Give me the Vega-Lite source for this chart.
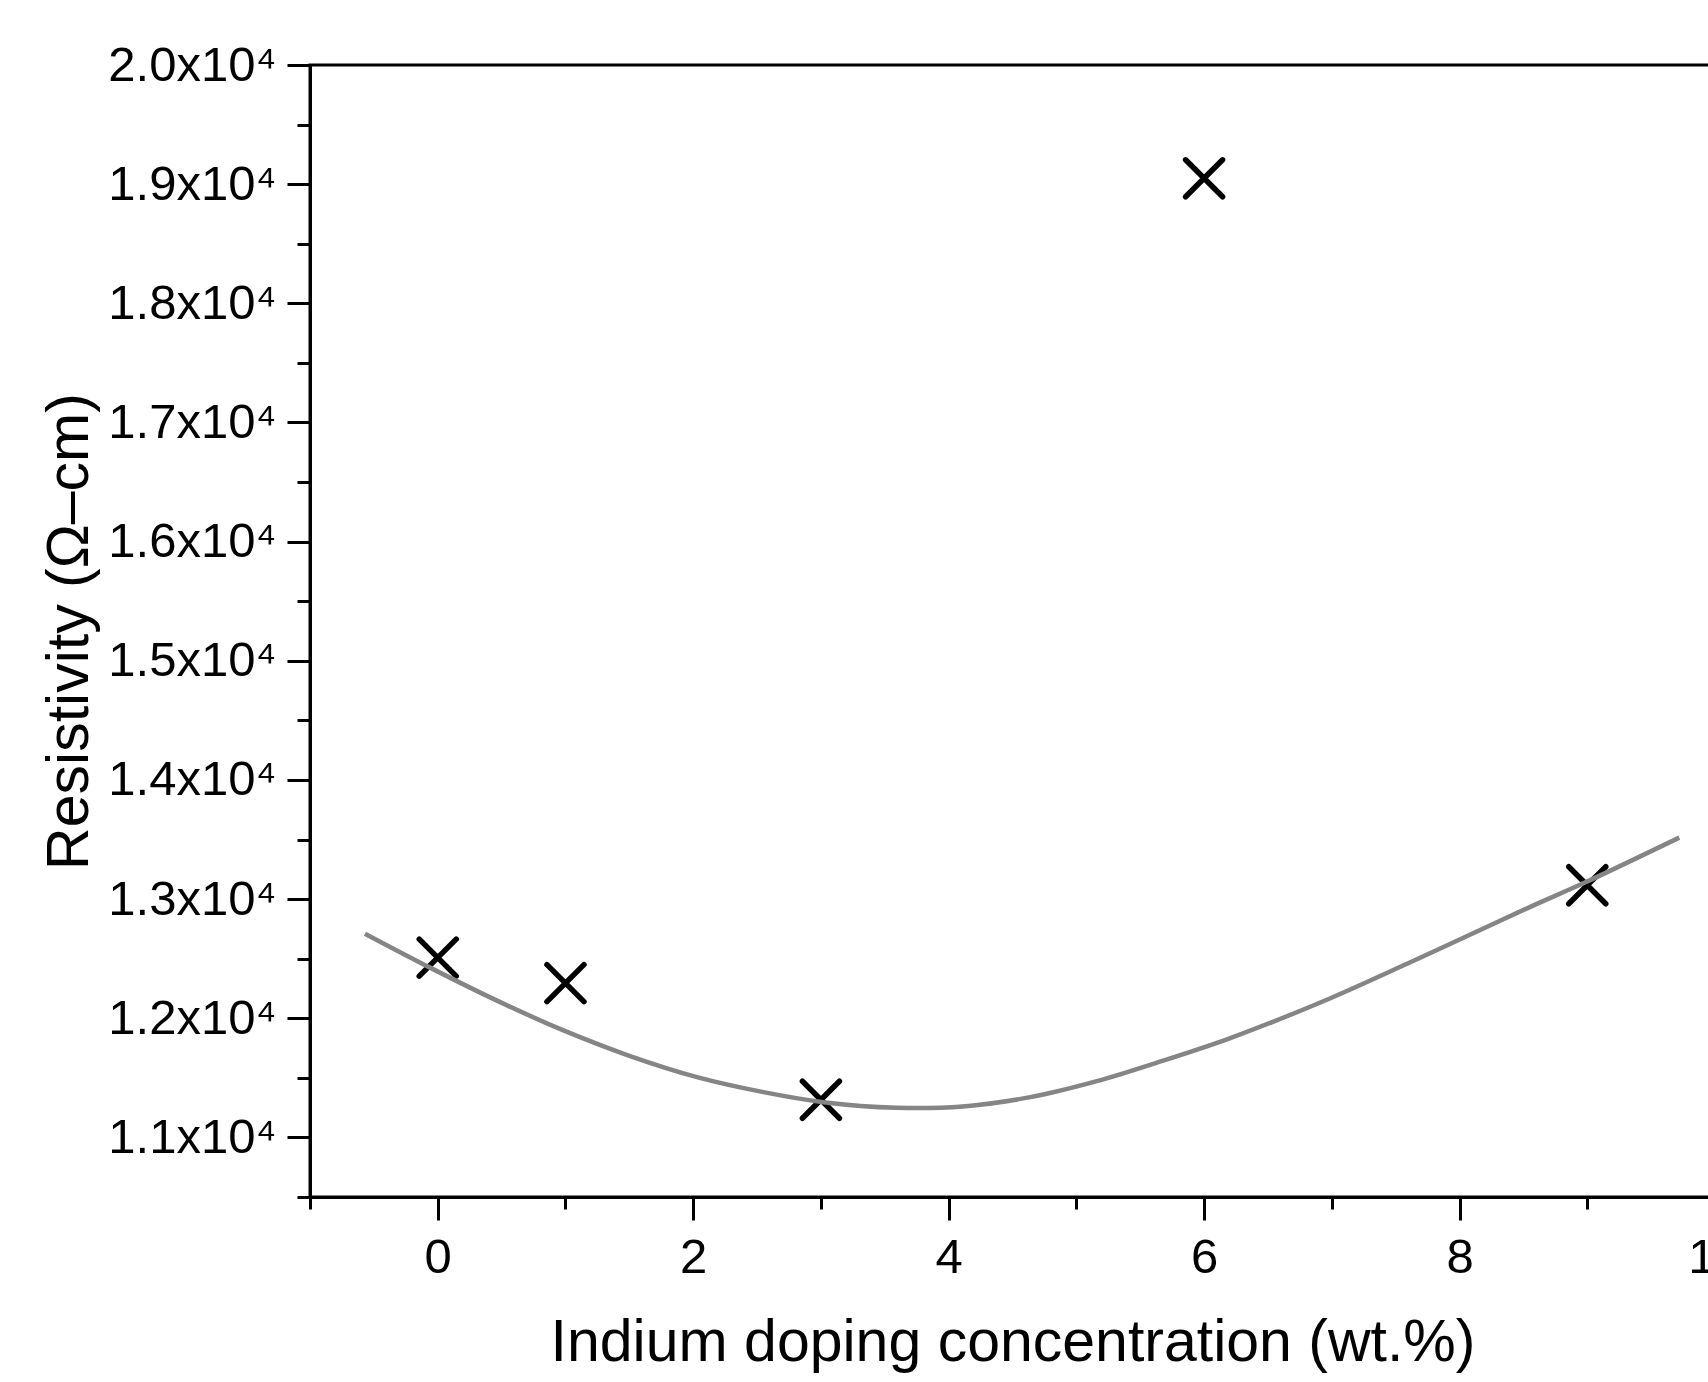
{
  "$schema": "https://vega.github.io/schema/vega-lite/v6.json",
  "width": 1405,
  "height": 1132,
  "autosize": {"type": "none"},
  "padding": {"left": 310, "top": 65, "right": -7, "bottom": 185},
  "background": "white",
  "config": {
    "view": {"stroke": "black", "strokeWidth": 3},
    "font": "Liberation Sans"
  },
  "datasets": {
    "points": [
      {"conc": 0, "rho": 12509},
      {"conc": 1, "rho": 12295},
      {"conc": 3, "rho": 11316},
      {"conc": 6, "rho": 19049},
      {"conc": 9, "rho": 13116}
    ],
    "fit": [
      {"conc": -0.57, "rho": 12710},
      {"conc": -0.06, "rho": 12425},
      {"conc": 0.46, "rho": 12150},
      {"conc": 0.98, "rho": 11900},
      {"conc": 1.5, "rho": 11685},
      {"conc": 2.03, "rho": 11506},
      {"conc": 2.55, "rho": 11380},
      {"conc": 3.02, "rho": 11296},
      {"conc": 3.59, "rho": 11249},
      {"conc": 4.11, "rho": 11260},
      {"conc": 4.64, "rho": 11338},
      {"conc": 5.16, "rho": 11472},
      {"conc": 5.68, "rho": 11645},
      {"conc": 6.2, "rho": 11832},
      {"conc": 6.98, "rho": 12164},
      {"conc": 7.76, "rho": 12542},
      {"conc": 8.55, "rho": 12933},
      {"conc": 8.99, "rho": 13143},
      {"conc": 9.72, "rho": 13516}
    ]
  },
  "encoding": {
    "x": {
      "field": "conc",
      "type": "quantitative",
      "scale": {"domain": [-1, 10], "nice": false, "zero": false},
      "axis": {
        "values": [-1, 0, 1, 2, 3, 4, 5, 6, 7, 8, 9, 10],
        "labelExpr": "datum.value % 2 === 0 ? format(datum.value, 'd') : ''",
        "labelOverlap": false,
        "labelFlush": false,
        "labelFontSize": 49,
        "labelColor": "black",
        "labelPadding": 13,
        "tickSize": {"condition": {"test": "datum.value % 2 !== 0", "value": 12}, "value": 23},
        "tickWidth": 3,
        "tickColor": "black",
        "domainColor": "black",
        "domainWidth": 3,
        "grid": false,
        "title": "Indium doping concentration (wt.%)",
        "titleFontSize": 59,
        "titleFontWeight": "normal",
        "titleColor": "black",
        "titlePadding": 31
      }
    },
    "y": {
      "field": "rho",
      "type": "quantitative",
      "scale": {"domain": [10500, 20000], "nice": false, "zero": false},
      "axis": {
        "values": [10500, 11000, 11500, 12000, 12500, 13000, 13500, 14000, 14500, 15000, 15500, 16000, 16500, 17000, 17500, 18000, 18500, 19000, 19500, 20000],
        "labelExpr": "datum.value % 1000 === 0 ? format(datum.value / 10000, '.1f') + 'x10⁴' : ''",
        "labelOverlap": false,
        "labelFlush": false,
        "labelFontSize": 49,
        "labelColor": "black",
        "labelPadding": 11,
        "tickSize": {"condition": {"test": "datum.value % 1000 !== 0", "value": 13}, "value": 23},
        "tickWidth": 3,
        "tickColor": "black",
        "domainColor": "black",
        "domainWidth": 3,
        "grid": false,
        "title": "Resistivity (Ω–cm)",
        "titleFontSize": 59,
        "titleFontWeight": "normal",
        "titleColor": "black",
        "titlePadding": 11
      }
    }
  },
  "layer": [
    {
      "data": {"name": "points"},
      "mark": {"type": "point", "shape": "M-1,-1L1,1M-1,1L1,-1", "size": 1369, "strokeWidth": 5.5, "filled": false, "color": "black", "opacity": 1, "strokeCap": "round"}
    },
    {
      "data": {"name": "fit"},
      "mark": {"type": "line", "color": "#858585", "strokeWidth": 4.5, "interpolate": "catmull-rom"}
    }
  ]
}
